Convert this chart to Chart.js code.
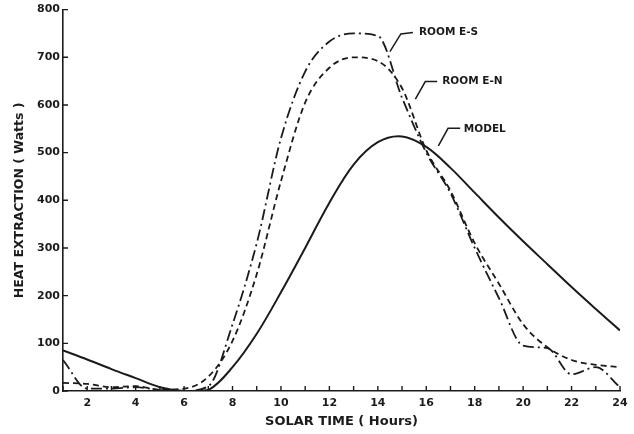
<!DOCTYPE html>
<html>
<head>
<meta charset="utf-8">
<script src="https://cdn.jsdelivr.net/npm/chart.js@4"></script>
<style>
  html, body { margin: 0; padding: 0; background: #fff; }
  #wrap { width: 634px; height: 434px; }
</style>
</head>
<body>
<div id="wrap"><canvas id="c" width="634" height="434"></canvas></div>
<script>
// ---- data ----
const hours   = [1,2,3,4,5,6,7,8,9,10,11,12,13,14,15,16,17,18,19,20,21,22,23,24];
const model   = [85,66,46,27,8,0,2,50,120,207,300,395,475,522,534,512,468,416,364,314,266,218,172,127];
const roomES  = [65,5,5,8,2,0,10,140,310,530,670,733,750,745,615,500,415,300,195,95,90,35,50,8];
const roomEN  = [17,15,8,10,3,5,30,105,245,440,605,678,700,692,635,505,420,310,225,140,92,65,55,50];
const yTicks  = [0,100,200,300,400,500,600,700,800];
const xLabels = [2,4,6,8,10,12,14,16,18,20,22,24];
const seriesNames = ["ROOM E-S","ROOM E-N","MODEL"];
// label anchors (hours, watts): leader start, elbow, end, text
const labelAnchors = [
  [[14.5,712],[14.95,749],[15.45,752],[15.7,752]],
  [[15.55,612],[15.96,649],[16.45,649],[16.66,649]],
  [[16.5,514],[16.9,551],[17.4,551],[17.55,549]]
];

const INK = '#1b1b1b';
const FONT = '"DejaVu Sans", "Liberation Sans", Arial, sans-serif';

function pts(arr){ return hours.map((h,i)=>({x:h,y:arr[i]})); }

const innerTicks = {
  id: 'innerTicks',
  afterDatasetsDraw(chart){
    const {ctx, scales:{x,y}, chartArea:a} = chart;
    ctx.save();
    ctx.strokeStyle = INK;
    ctx.lineWidth = 1.4;
    ctx.beginPath();
    x.ticks.forEach(t => {
      const px = x.getPixelForValue(t.value);
      ctx.moveTo(px, a.bottom); ctx.lineTo(px, a.bottom - 5);
    });
    y.ticks.forEach(t => {
      const py = y.getPixelForValue(t.value);
      ctx.moveTo(a.left, py); ctx.lineTo(a.left + 5, py);
    });
    ctx.stroke();
    // series labels with leader lines
    ctx.lineWidth = 1.5;
    ctx.fillStyle = INK;
    ctx.font = 'bold 10.5px ' + FONT;
    ctx.textBaseline = 'middle';
    labelAnchors.forEach((an, i) => {
      const p = an.map(([h,v]) => [x.getPixelForValue(h), y.getPixelForValue(v)]);
      ctx.beginPath();
      ctx.moveTo(p[0][0], p[0][1]);
      ctx.lineTo(p[1][0], p[1][1]);
      ctx.lineTo(p[2][0], p[2][1]);
      ctx.stroke();
      ctx.fillText(seriesNames[i], p[3][0], p[3][1]);
    });
    ctx.restore();
  }
};

new Chart(document.getElementById('c'), {
  type: 'line',
  data: {
    datasets: [
      { label: seriesNames[0], data: pts(roomES), borderColor: INK, borderWidth: 1.8,
        borderDash: [11,4,2,4], pointRadius: 0, cubicInterpolationMode: 'monotone', fill: false },
      { label: seriesNames[1], data: pts(roomEN), borderColor: INK, borderWidth: 1.8,
        borderDash: [6,4], pointRadius: 0, cubicInterpolationMode: 'monotone', fill: false },
      { label: seriesNames[2], data: pts(model), borderColor: INK, borderWidth: 2,
        pointRadius: 0, tension: 0.35, fill: false }
    ]
  },
  options: {
    responsive: false,
    animation: false,
    layout: { padding: { top: 8, right: 14, left: 0, bottom: 0 } },
    plugins: { legend: { display: false }, tooltip: { enabled: false } },
    scales: {
      x: {
        type: 'linear', min: 1, max: 24,
        afterFit(s){ s.height = 43; },
        grid: { drawOnChartArea: false, drawTicks: false },
        border: { color: INK, width: 1.6 },
        ticks: {
          stepSize: 1, autoSkip: false, maxRotation: 0, padding: 6,
          color: INK, font: { family: FONT, weight: 'bold', size: 11 },
          callback: v => xLabels.includes(v) ? String(v) : ''
        },
        title: { display: true, text: 'SOLAR TIME ( Hours)', color: INK,
          font: { family: FONT, weight: 'bold', size: 13 }, padding: { top: 0, bottom: 5 } }
      },
      y: {
        min: 0, max: 800,
        afterFit(s){ s.width = 63; },
        grid: { drawOnChartArea: false, drawTicks: false },
        border: { color: INK, width: 1.6 },
        afterBuildTicks(s){ s.ticks = yTicks.map(v => ({value: v})); },
        ticks: { padding: 3, color: INK, font: { family: FONT, weight: 'bold', size: 11 } },
        title: { display: true, text: 'HEAT EXTRACTION ( Watts )', color: INK,
          font: { family: FONT, weight: 'bold', size: 12.5 }, padding: { top: 12, bottom: 0 } }
      }
    }
  },
  plugins: [innerTicks]
});
</script>
</body>
</html>
